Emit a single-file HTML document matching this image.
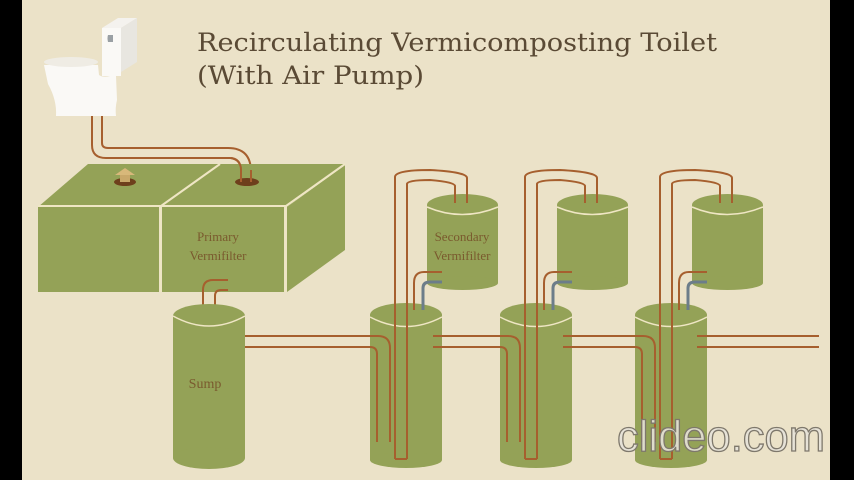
<!DOCTYPE html>
<html><head><meta charset="utf-8"><style>
html,body{margin:0;padding:0;background:#000;}
svg{display:block}
</style></head><body>
<svg width="854" height="480" viewBox="0 0 854 480" xmlns="http://www.w3.org/2000/svg">
<rect x="0" y="0" width="854" height="480" fill="#000"/>
<rect x="22" y="0" width="808" height="480" fill="#ebe2c8"/>
<text x="197" y="51" font-family="DejaVu Serif, Liberation Serif, serif" font-size="25" fill="#5a4a35" textLength="520" lengthAdjust="spacingAndGlyphs">Recirculating Vermicomposting Toilet</text>
<text x="197" y="84" font-family="DejaVu Serif, Liberation Serif, serif" font-size="25" fill="#5a4a35" textLength="227" lengthAdjust="spacingAndGlyphs">(With Air Pump)</text>

<!-- toilet -->
<polygon points="102,28 118,18 137,18 121,28" fill="#f4f2ee"/>
<polygon points="121,28 137,18 137,62 121,72" fill="#e8e6e0"/>
<rect x="102" y="28" width="19" height="48" fill="#faf9f6"/>
<path d="M108,35 h5 v7 h-5 q-1,-4 0,-7z" fill="#9aa0a4"/>
<path d="M44,65 L98,65 L99,75 Q103,78 110,76 L116,76 L117,100 Q115,108 116,116 L56,116 Q57,100 48,84 Z" fill="#faf9f6"/>
<ellipse cx="71" cy="62" rx="27" ry="5" fill="#efece4"/>
<!-- pipe from toilet -->
<path d="M92,116 V145 Q92,158 106,158 H230 Q241,158 241,172 V182" fill="none" stroke="#a65f2e" stroke-width="2"/>
<path d="M102,116 V143 Q102,148 108,148 H228 Q251,148 251,172 V182" fill="none" stroke="#a65f2e" stroke-width="2"/>

<!-- primary box -->
<polygon points="38,207 88,164 345,164 287,207" fill="#94a257"/>
<rect x="38" y="207" width="121" height="85" fill="#94a257"/>
<rect x="162" y="207" width="122" height="85" fill="#94a257"/>
<polygon points="287,207 345,165 345,250 287,292" fill="#94a257"/>
<line x1="38" y1="206" x2="287" y2="206" stroke="#efe6c4" stroke-width="2"/>
<line x1="160.5" y1="206" x2="160.5" y2="292" stroke="#efe6c4" stroke-width="2"/>
<line x1="285.5" y1="206" x2="285.5" y2="292" stroke="#efe6c4" stroke-width="2"/>
<line x1="161" y1="206" x2="220" y2="164" stroke="#efe6c4" stroke-width="2"/>
<line x1="286" y1="206" x2="345" y2="164" stroke="#efe6c4" stroke-width="2"/>
<ellipse cx="247" cy="182" rx="12" ry="4" fill="#6e3f1c"/>
<path d="M241,182 V170 Q241,160 231,158" fill="none" stroke="#a65f2e" stroke-width="2"/>
<path d="M251,182 V170" fill="none" stroke="#a65f2e" stroke-width="2"/>
<ellipse cx="125" cy="182" rx="11" ry="4" fill="#6e3f1c"/>
<rect x="120" y="174" width="10" height="8" fill="#c9a86a"/>
<polygon points="115,175 125,168 135,175" fill="#d8b87a"/>
<text x="218" y="241" text-anchor="middle" font-family="Liberation Serif, serif" font-size="13" fill="#7a5a2e">Primary</text>
<text x="218" y="260" text-anchor="middle" font-family="Liberation Serif, serif" font-size="13" fill="#7a5a2e">Vermifilter</text>

<!-- sump -->
<path d="M203,308 V290 Q203,280 213,280 H228" fill="none" stroke="#a65f2e" stroke-width="2"/>
<path d="M215,308 V296 Q215,290 221,290 H228" fill="none" stroke="#a65f2e" stroke-width="2"/>
<rect x="173" y="316" width="72" height="142" fill="#94a257"/>
<ellipse cx="209" cy="458" rx="36" ry="11" fill="#94a257"/>
<ellipse cx="209" cy="316" rx="36" ry="12" fill="#94a257"/>
<path d="M173,316 Q209,336 245,316" fill="none" stroke="#efe6c4" stroke-width="1.5"/>
<text x="205" y="388" text-anchor="middle" font-family="Liberation Serif, serif" font-size="14" fill="#7a5a2e">Sump</text>

<g id="s1">
<rect x="427" y="205" width="71" height="78" fill="#94a257"/>
<ellipse cx="462.5" cy="283" rx="35.5" ry="7" fill="#94a257"/>
<ellipse cx="462.5" cy="205" rx="35.5" ry="11" fill="#94a257"/>
<path d="M427,207 Q462,222 498,207" fill="none" stroke="#efe6c4" stroke-width="1.5"/>
<rect x="370" y="315" width="72" height="145" fill="#94a257"/>
<ellipse cx="406" cy="460" rx="36" ry="8" fill="#94a257"/>
<ellipse cx="406" cy="315" rx="36" ry="12" fill="#94a257"/>
<path d="M370,317 Q406,336 442,317" fill="none" stroke="#efe6c4" stroke-width="1.5"/>
<path d="M360,336 H378 Q390,336 390,348 V442" fill="none" stroke="#a65f2e" stroke-width="2"/>
<path d="M360,347 H370 Q377,347 377,354 V442" fill="none" stroke="#a65f2e" stroke-width="2"/>
<path d="M395,459 V177 Q395,170 430,170 Q467,172 467,178 V203" fill="none" stroke="#a65f2e" stroke-width="2"/>
<path d="M407,459 V184 Q407,180 430,180 Q455,182 455,186 V203" fill="none" stroke="#a65f2e" stroke-width="2"/>
<line x1="395" y1="459" x2="407" y2="459" stroke="#a65f2e" stroke-width="2"/>
<path d="M414,310 V283 Q414,272 424,272 H442" fill="none" stroke="#a65f2e" stroke-width="2"/>
<path d="M423,310 V288 Q423,282 430,282 H442" fill="none" stroke="#6c7d8a" stroke-width="3"/>
</g>
<use href="#s1" x="130"/>
<use href="#s1" x="265"/>
<text x="462" y="241" text-anchor="middle" font-family="Liberation Serif, serif" font-size="13" fill="#7a5a2e">Secondary</text>
<text x="462" y="260" text-anchor="middle" font-family="Liberation Serif, serif" font-size="13" fill="#7a5a2e">Vermifilter</text>

<line x1="245" y1="336" x2="362" y2="336" stroke="#a65f2e" stroke-width="2"/>
<line x1="245" y1="347" x2="362" y2="347" stroke="#a65f2e" stroke-width="2"/>
<line x1="433" y1="336" x2="492" y2="336" stroke="#a65f2e" stroke-width="2"/>
<line x1="433" y1="347" x2="492" y2="347" stroke="#a65f2e" stroke-width="2"/>
<line x1="563" y1="336" x2="627" y2="336" stroke="#a65f2e" stroke-width="2"/>
<line x1="563" y1="347" x2="627" y2="347" stroke="#a65f2e" stroke-width="2"/>
<line x1="697" y1="336" x2="819" y2="336" stroke="#a65f2e" stroke-width="2"/>
<line x1="697" y1="347" x2="819" y2="347" stroke="#a65f2e" stroke-width="2"/>

<text x="617" y="451" font-family="Liberation Sans, sans-serif" font-size="44" fill="#e6e2d8" fill-opacity="0.9" stroke="#7e786c" stroke-width="1.3" textLength="208" lengthAdjust="spacingAndGlyphs">clideo.com</text>
</svg>
</body></html>
